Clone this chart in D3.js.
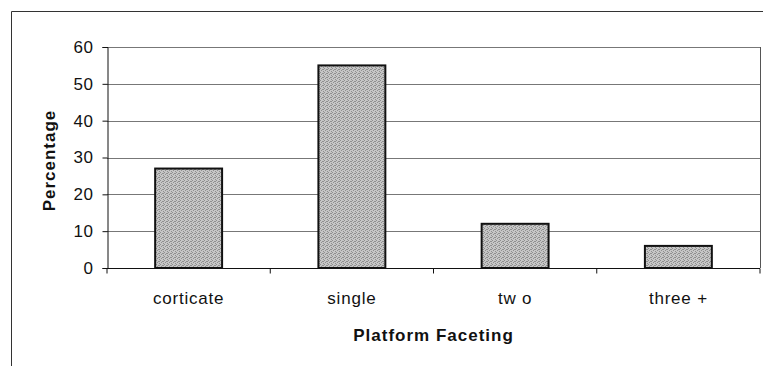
<!DOCTYPE html>
<html>
<head>
<meta charset="utf-8">
<script src="https://cdn.jsdelivr.net/npm/d3@7/dist/d3.min.js"></script>
<style>
  html, body { margin: 0; padding: 0; background: #fff; }
  svg { display: block; }
  text { font-family: "Liberation Sans", Arial, sans-serif; fill: #111; }
</style>
</head>
<body>
<svg id="chart" width="763" height="366"></svg>
<script>
// Platform faceting frequencies (percent)
const categories = ["corticate", "single", "tw o", "three +"];
const percentages = [27, 55, 12, 6];
const yTicks = [0, 10, 20, 30, 40, 50, 60];
const yLabel = "Percentage";
const xLabel = "Platform Faceting";

const svg = d3.select("#chart");
const margin = { left: 107, right: 3, top: 47, bottom: 98 };
const W = 763, H = 366;
const FONT = '"Liberation Sans", Arial, sans-serif';

// outer chart frame
svg.append("path")
  .attr("d", "M11.5,370 V11.5 H770")
  .attr("fill", "none").attr("stroke", "#333").attr("stroke-width", 1);

// stippled grey fill for the bars
const defs = svg.append("defs");
const pat = defs.append("pattern")
  .attr("id", "stipple").attr("patternUnits", "userSpaceOnUse")
  .attr("width", 4).attr("height", 4);
pat.append("rect").attr("width", 4).attr("height", 4).attr("fill", "#c6c6c6");
[[0,0],[2,1],[1,2],[3,3],[3,1]].forEach(([px, py]) =>
  pat.append("rect").attr("x", px).attr("y", py).attr("width", 1).attr("height", 1).attr("fill", "#8f8f8f"));

const x = d3.scaleBand()
  .domain(categories)
  .range([margin.left, W - margin.right])
  .paddingInner(0.59).paddingOuter(0.295);

const y = d3.scaleLinear().domain([0, 60]).range([H - margin.bottom, margin.top]);

// horizontal gridlines
svg.append("g").selectAll("line")
  .data(yTicks.filter(t => t > 0))
  .join("line")
  .attr("x1", margin.left).attr("x2", W - margin.right)
  .attr("y1", d => Math.round(y(d)) + 0.5).attr("y2", d => Math.round(y(d)) + 0.5)
  .attr("stroke", "#777").attr("stroke-width", 1);

// right border of the plot area
svg.append("line")
  .attr("x1", W - margin.right + 0.5).attr("x2", W - margin.right + 0.5)
  .attr("y1", y(60)).attr("y2", y(0))
  .attr("stroke", "#555");

// bars
svg.append("g").selectAll("rect")
  .data(percentages)
  .join("rect")
  .attr("x", (d, i) => x(categories[i]))
  .attr("y", d => y(d))
  .attr("width", x.bandwidth())
  .attr("height", d => y(0) - y(d))
  .attr("fill", "url(#stipple)")
  .attr("stroke", "#111").attr("stroke-width", 2);

// y axis
const yAxis = svg.append("g")
  .attr("transform", `translate(${margin.left + 0.5},0)`)
  .call(d3.axisLeft(y).tickValues(yTicks).tickSize(5).tickPadding(9));
yAxis.attr("font-size", null).attr("font-family", null);
yAxis.select(".domain").attr("stroke", "#111");
yAxis.selectAll(".tick line").attr("stroke", "#111");
yAxis.selectAll("text")
  .style("font-size", "17px").style("font-family", FONT)
  .style("letter-spacing", "0.6px").attr("fill", "#111");

// x axis: ticks sit on the category boundaries
const xAxisG = svg.append("g")
  .attr("transform", `translate(0,${Math.round(y(0)) + 0.5})`);
xAxisG.append("line")
  .attr("x1", margin.left).attr("x2", W - margin.right)
  .attr("stroke", "#111").attr("stroke-width", 1.2);
const step = x.step();
const boundaries = d3.range(categories.length + 1).map(i => margin.left + x.paddingOuter() * step - x.paddingInner() * step / 2 + i * step);
xAxisG.selectAll("line.tk")
  .data(boundaries)
  .join("line").attr("class", "tk")
  .attr("x1", d => d).attr("x2", d => d)
  .attr("y1", 0).attr("y2", 5)
  .attr("stroke", "#111");
xAxisG.selectAll("text.cat")
  .data(categories)
  .join("text").attr("class", "cat")
  .attr("x", d => x(d) + x.bandwidth() / 2)
  .attr("y", 35)
  .attr("text-anchor", "middle")
  .style("font-size", "17px").style("letter-spacing", "0.8px")
  .text(d => d);

// axis titles
svg.append("text")
  .attr("transform", `translate(55,${(y(0) + y(60)) / 2 + 3}) rotate(-90)`)
  .attr("text-anchor", "middle")
  .style("font-size", "17px").attr("font-weight", "bold")
  .style("letter-spacing", "1px")
  .text(yLabel);

svg.append("text")
  .attr("x", (margin.left + W - margin.right) / 2)
  .attr("y", 341)
  .attr("text-anchor", "middle")
  .style("font-size", "17px").attr("font-weight", "bold")
  .style("letter-spacing", "1px")
  .text(xLabel);
</script>
</body>
</html>
